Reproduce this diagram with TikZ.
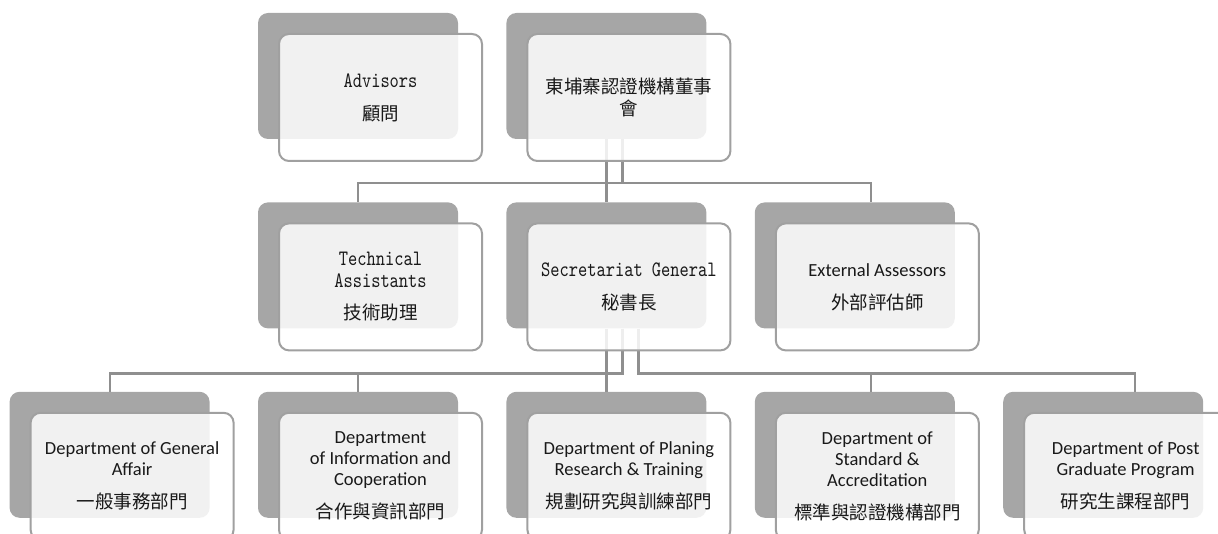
\documentclass[tikz,border=0pt]{standalone}
\usepackage{fontspec}
\setmainfont{Carlito}
\newfontfamily\cjk{Noto Sans CJK TC}
\newfontfamily\tw[FakeStretch=0.8]{lmmono10-regular.otf}
\usetikzlibrary{positioning,backgrounds}
\definecolor{shade}{HTML}{A6A6A6}
\definecolor{edge}{HTML}{A0A0A0}
\definecolor{wire}{HTML}{8F8F8F}
\newcommand{\zh}[1]{{\cjk\fontsize{18.5}{22}\selectfont #1}}

\begin{document}
\begin{tikzpicture}[x=1pt,y=1pt,node distance=63pt and 48pt, every node/.style={align=center,text=black!90,font=\fontsize{18.5}{21}\selectfont}, back/.style={fill=shade,rounded corners=10pt,minimum width=200pt,minimum height=126pt,inner sep=0pt}, front/.style={draw=edge,line width=2pt,fill=white,fill opacity=0.85,text opacity=1,rounded corners=10pt,minimum width=203pt,minimum height=127pt,inner sep=2pt}, mono/.style={font=\tw\fontsize{22}{22}\selectfont}, conn/.style={draw=wire,line width=2.2pt}]
\useasboundingbox (0,0) rectangle (1218,-534);
\clip (0,0) rectangle (1218,-534);
% grey plates behind each box
\node[back] (advB) at (358,-76) {};
\node[back,right=of advB] (boardB) {};
\node[back,below=of advB] (techB) {};
\node[back,right=of techB] (secB) {};
\node[back,right=of secB] (extB) {};
\node[back,below=of techB] (infoB) {};
\node[back,left=of infoB] (genB) {};
\node[back,right=of infoB] (planB) {};
\node[back,right=of planB] (stdB) {};
\node[back,right=of stdB] (postB) {};
% boxes with the texts
\node[front,mono] (adv) at ([shift={(22.5,-21.5)}]advB.center) {Advisors\\[11pt]\zh{顧問}};
\node[front,mono] (board) at ([shift={(22.5,-21.5)}]boardB.center) {\zh{東埔寨認證機構董事}\\\zh{會}};
\node[front,mono] (tech) at ([shift={(22.5,-21.5)}]techB.center) {Technical\\Assistants\\[10pt]\zh{技術助理}};
\node[front,mono] (sec) at ([shift={(22.5,-21.5)}]secB.center) {Secretariat General\\[11pt]\zh{秘書長}};
\node[front] (ext) at ([shift={(22.5,-21.5)}]extB.center) {External Assessors\\[12pt]\zh{外部評估師}};
\node[front] (gen) at ([shift={(22.5,-21.5)}]genB.center) {Department of General\\Affair\\[12pt]\zh{一般事務部門}};
\node[front] (info) at ([shift={(22.5,-21.5)}]infoB.center) {Department\\of Information and\\Cooperation\\[12pt]\zh{合作與資訊部門}};
\node[front] (plan) at ([shift={(22.5,-21.5)}]planB.center) {Department of Planing\\Research \& Training\\[12pt]\zh{規劃研究與訓練部門}};
\node[front] (std) at ([shift={(22.5,-21.5)}]stdB.center) {Department of\\Standard \&\\Accreditation\\[12pt]\zh{標準與認證機構部門}};
\node[front] (post) at ([shift={(22.5,-21.5)}]postB.center) {Department of Post\\Graduate Program\\[12pt]\zh{研究生課程部門}};
% connectors
\begin{scope}[on background layer]
\draw[conn] (boardB.south)--(secB.north);\draw[conn] ([xshift=16pt]boardB.south)--++(0,-44)-|(techB.north);\draw[conn] ([xshift=16pt]boardB.south)--++(0,-44)-|([xshift=16pt]extB.north);
\draw[conn] (secB.south)--(planB.north);\draw[conn] ([xshift=16pt]secB.south)--++(0,-45)-|(genB.north);\draw[conn] ([xshift=16pt]secB.south)--++(0,-45)-|(infoB.north);
\draw[conn] ([xshift=32pt]secB.south)--++(0,-45)-|([xshift=16pt]stdB.north);\draw[conn] ([xshift=32pt]secB.south)--++(0,-45)-|([xshift=32pt]postB.north);
\end{scope}
\end{tikzpicture}
\end{document}
